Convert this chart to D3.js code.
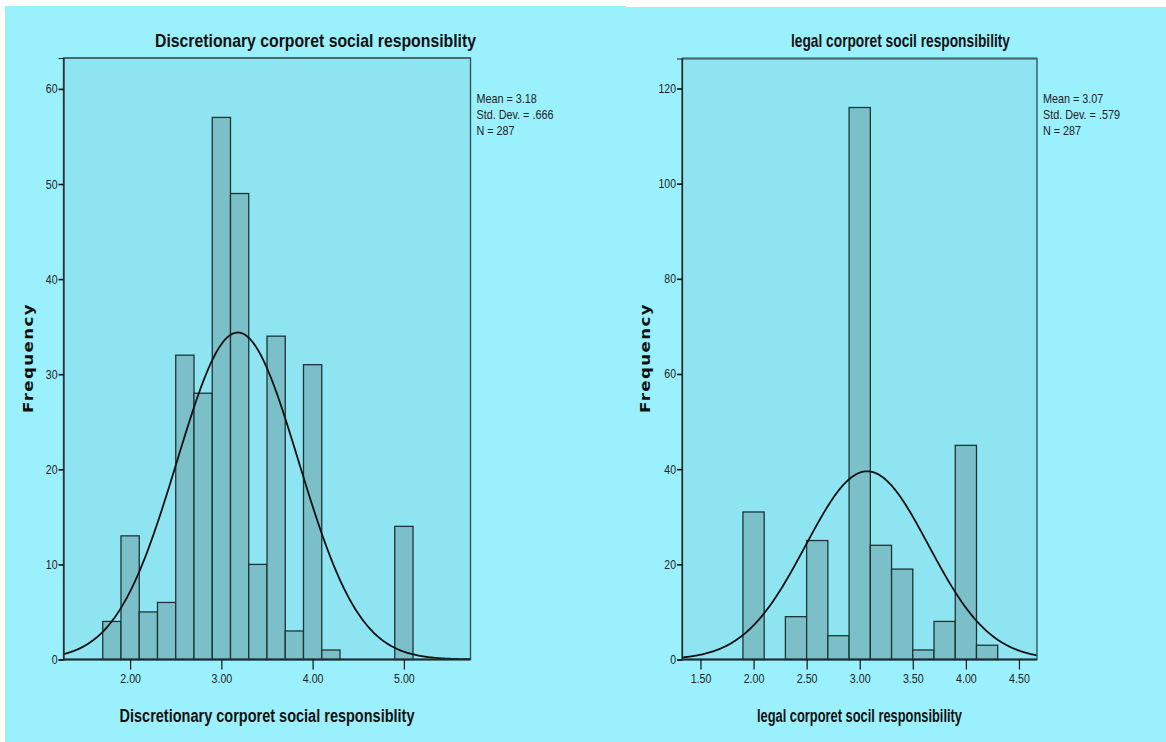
<!DOCTYPE html>
<html><head><meta charset="utf-8">
<script src="https://cdn.jsdelivr.net/npm/d3@7"></script>
<style>
html,body{margin:0;padding:0;background:#fff;}
svg{display:block;}
</style></head>
<body>
<svg id="chart" width="1166" height="742"></svg>
<script>
// ---- data ----
const leftTitle = "Discretionary corporet social responsiblity";
const leftBinCenters = [1.8, 2.0, 2.2, 2.4, 2.6, 2.8, 3.0, 3.2, 3.4, 3.6, 3.8, 4.0, 4.2, 5.0];
const leftCounts     = [4, 13, 5, 6, 32, 28, 57, 49, 10, 34, 3, 31, 1, 14];
const leftXTicks = [2, 3, 4, 5];
const leftYTicks = [0, 10, 20, 30, 40, 50, 60];
const leftStats = ["Mean = 3.18", "Std. Dev. = .666", "N = 287"];
const leftMean = 3.18, leftSd = 0.666, leftN = 287;

const rightTitle = "legal corporet socil responsibility";
const rightBinCenters = [2.0, 2.4, 2.6, 2.8, 3.0, 3.2, 3.4, 3.6, 3.8, 4.0, 4.2];
const rightCounts     = [31, 9, 25, 5, 116, 24, 19, 2, 8, 45, 3];
const rightXTicks = [1.5, 2, 2.5, 3, 3.5, 4, 4.5];
const rightYTicks = [0, 20, 40, 60, 80, 100, 120];
const rightStats = ["Mean = 3.07", "Std. Dev. = .579", "N = 287"];
const rightMean = 3.07, rightSd = 0.579, rightN = 287;

const binWidth = 0.2;

// ---- drawing ----
const svg = d3.select("#chart");
svg.append("rect").attr("x",5).attr("y",6).attr("width",621).attr("height",736).attr("fill","#9af1fd");
svg.append("rect").attr("x",626).attr("y",7).attr("width",540).attr("height",735).attr("fill","#9af1fd");

const narrow = "'Liberation Sans Narrow','Arial Narrow','Liberation Sans',Arial,sans-serif";

function condense(sel, factor){
  sel.each(function(){
    const w = this.getComputedTextLength();
    d3.select(this).attr("textLength", w*factor).attr("lengthAdjust","spacingAndGlyphs");
  });
}

function panel(cfg){
  const g = svg.append("g");
  const x = d3.scaleLinear().domain(cfg.xDomain).range([cfg.left, cfg.right]);
  const y = d3.scaleLinear().domain(cfg.yDomain).range([cfg.bottom, cfg.top]);

  g.append("rect").attr("x",cfg.left).attr("y",cfg.top)
   .attr("width",cfg.right-cfg.left).attr("height",cfg.bottom-cfg.top)
   .attr("fill","#8ee4f0");

  const clipId = "clip"+cfg.id;
  svg.append("clipPath").attr("id",clipId).append("rect")
    .attr("x",cfg.left).attr("y",cfg.top).attr("width",cfg.right-cfg.left).attr("height",cfg.bottom-cfg.top);

  const bars = cfg.centers.map((c,i)=>({c, n: cfg.counts[i]}));
  g.append("g").selectAll("rect").data(bars).join("rect")
    .attr("x", d=>x(d.c - binWidth/2))
    .attr("width", d=>x(d.c + binWidth/2) - x(d.c - binWidth/2))
    .attr("y", d=>y(d.n))
    .attr("height", d=>y(0)-y(d.n))
    .attr("fill","#7bc0c9")
    .attr("stroke","#1c3436")
    .attr("stroke-width",1.3);

  const k = cfg.n*binWidth/(cfg.sd*Math.sqrt(2*Math.PI));
  const pts = d3.range(0,401).map(i=>{
    const xv = cfg.xDomain[0] + (cfg.xDomain[1]-cfg.xDomain[0])*i/400;
    const z = (xv-cfg.mean)/cfg.sd;
    return [xv, k*Math.exp(-0.5*z*z)];
  });
  g.append("path").datum(pts)
    .attr("clip-path",`url(#${clipId})`)
    .attr("d", d3.line().x(d=>x(d[0])).y(d=>y(d[1])))
    .attr("fill","none").attr("stroke","#111").attr("stroke-width",1.8);

  g.append("rect").attr("x",cfg.left).attr("y",cfg.top)
   .attr("width",cfg.right-cfg.left).attr("height",cfg.bottom-cfg.top)
   .attr("fill","none").attr("stroke","#33575c").attr("stroke-width",1.4);
  g.append("line").attr("x1",cfg.left).attr("x2",cfg.right).attr("y1",cfg.top).attr("y2",cfg.top)
   .attr("stroke","#4a6a70").attr("stroke-width",2.2);
  g.append("line").attr("x1",cfg.left).attr("x2",cfg.right).attr("y1",cfg.bottom).attr("y2",cfg.bottom)
   .attr("stroke","#1c2c2e").attr("stroke-width",1.8);

  const yAxis = d3.axisLeft(y).tickValues(cfg.yTicks).tickSize(5).tickPadding(1).tickFormat(d3.format("d"));
  const ya = g.append("g").attr("transform",`translate(${cfg.left},0)`).call(yAxis);
  ya.select(".domain").attr("stroke","#222").attr("stroke-width",1.2);
  ya.selectAll(".tick line").attr("stroke","#111").attr("stroke-width",1.6);
  ya.selectAll(".tick text").attr("font-family",narrow).attr("font-size",12.5).attr("fill","#222")
    .call(condense, 0.84);

  const xAxis = d3.axisBottom(x).tickValues(cfg.xTicks).tickSize(10).tickPadding(5).tickFormat(d3.format(".2f"));
  const xa = g.append("g").attr("transform",`translate(0,${cfg.bottom})`).call(xAxis);
  xa.select(".domain").remove();
  xa.selectAll(".tick line").attr("stroke","#111").attr("stroke-width",1.2);
  xa.selectAll(".tick text").attr("font-family",narrow).attr("font-size",12.5).attr("fill","#222")
    .call(condense, 0.85);

  g.append("text").attr("x",cfg.titleX).attr("y",47).attr("text-anchor","middle")
    .attr("font-family",narrow).attr("font-weight","bold").attr("font-size",18.5).attr("fill","#111")
    .attr("textLength",cfg.titleW).attr("lengthAdjust","spacingAndGlyphs")
    .text(cfg.title);
  g.append("text").attr("x",(cfg.left+cfg.right)/2).attr("y",722).attr("text-anchor","middle")
    .attr("font-family",narrow).attr("font-weight","bold").attr("font-size",17.5).attr("fill","#111")
    .attr("textLength",cfg.xTitleW).attr("lengthAdjust","spacingAndGlyphs")
    .text(cfg.title);
  g.append("text").attr("transform",`translate(${cfg.yTitleX},358) rotate(-90)`)
    .attr("text-anchor","middle")
    .attr("font-family","'DejaVu Sans',Verdana,sans-serif").attr("font-weight","bold").attr("font-size",14)
    .attr("letter-spacing",1.2).attr("fill","#111")
    .attr("textLength",110).attr("lengthAdjust","spacingAndGlyphs")
    .text("Frequency");
  g.append("g").selectAll("text").data(cfg.stats).join("text")
    .attr("x",cfg.right+6).attr("y",(d,i)=>103+i*16)
    .attr("font-family",narrow).attr("font-size",13.5).attr("fill","#222")
    .text(d=>d)
    .call(condense, 0.8);
}

panel({id:"L", left:63.5, right:470.5, top:58, bottom:659.5,
  xDomain:[1.27,5.73], yDomain:[0,63.25],
  centers:leftBinCenters, counts:leftCounts, xTicks:leftXTicks, yTicks:leftYTicks,
  mean:leftMean, sd:leftSd, n:leftN, stats:leftStats, title:leftTitle,
  titleX:315.5, titleW:321, xTitleW:295, yTitleX:33});

panel({id:"R", left:682, right:1037, top:58.5, bottom:659.5,
  xDomain:[1.326,4.67], yDomain:[0,126.3],
  centers:rightBinCenters, counts:rightCounts, xTicks:rightXTicks, yTicks:rightYTicks,
  mean:rightMean, sd:rightSd, n:rightN, stats:rightStats, title:rightTitle,
  titleX:900.5, titleW:219, xTitleW:205, yTitleX:650});
</script>
</body></html>
